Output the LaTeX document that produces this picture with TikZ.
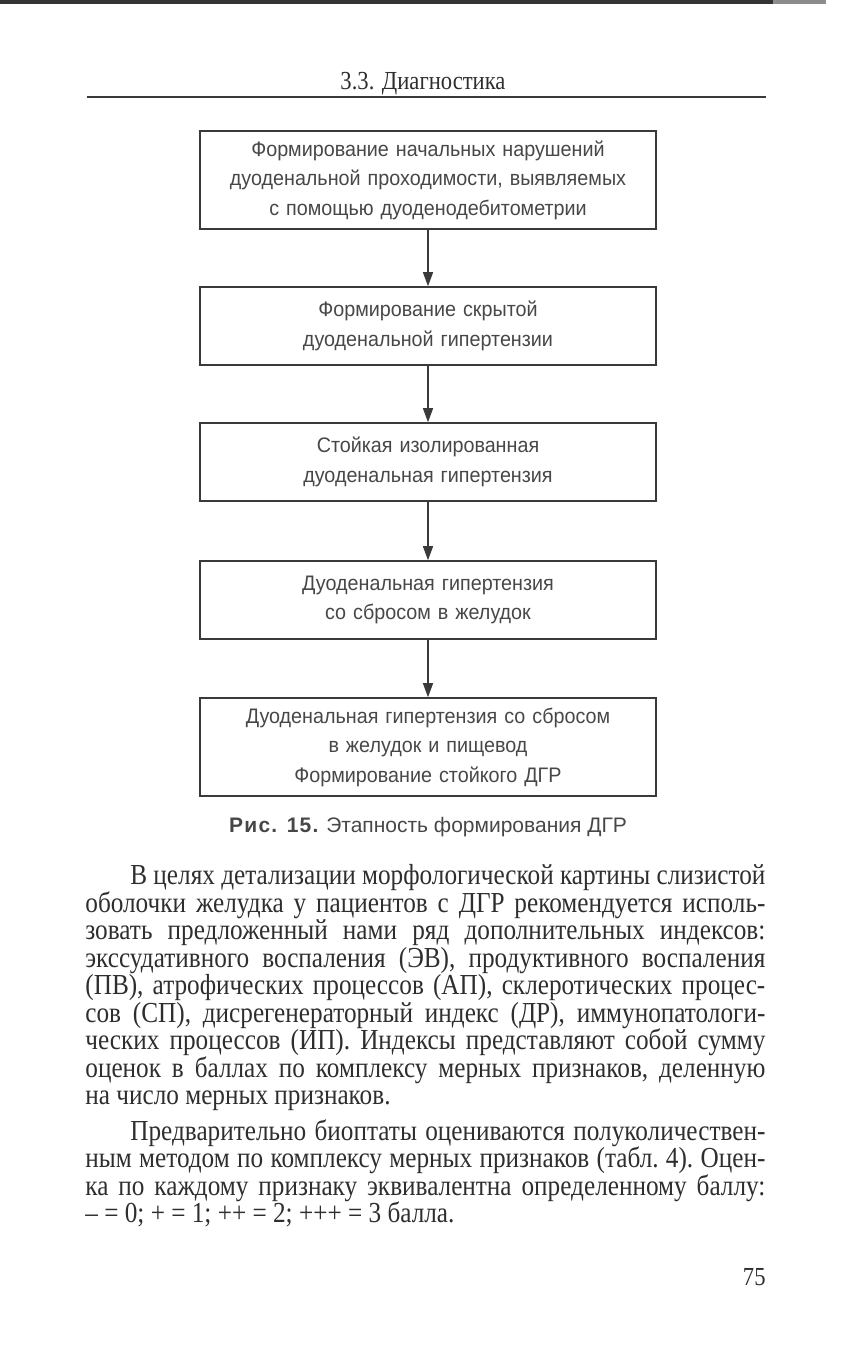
\documentclass[tikz,border=0pt]{standalone}
\usepackage{fontspec}
\setmainfont{Liberation Serif}
\newfontfamily\boxfont[FakeStretch=0.94]{Liberation Sans}
\newfontfamily\capfont{Liberation Sans}
\newfontfamily\bodyfont[FakeStretch=0.87]{Liberation Serif}
\usetikzlibrary{positioning,arrows.meta}
\definecolor{ink}{HTML}{2E2E2E}
\definecolor{frame}{HTML}{3A3A3A}
\definecolor{grey}{HTML}{474747}

\begin{document}
\begin{tikzpicture}[
  x=0.5pt, y=-0.5pt,
  stage/.style = {draw=frame, line width=0.8pt, text=grey, align=center,
                  inner xsep=0pt, text width=228pt, minimum height=39pt,
                  font=\boxfont\fontsize{10.5}{14.75}\selectfont},
  tall/.style  = {stage, minimum height=49pt},
  arr/.style   = {-{Triangle[length=7pt,width=5pt]}, draw=frame, line width=0.7pt},
  head/.style  = {text=ink, inner sep=0pt, font=\bodyfont\fontsize{13}{14}\selectfont},
  body/.style  = {text=ink, inner sep=0pt, text width=340pt, align=justify,
                  font=\bodyfont\fontsize{14.5}{13.75}\selectfont},
  capt/.style  = {text=grey, inner sep=0pt, font=\capfont\fontsize{10.5}{12}\selectfont},
]
\useasboundingbox (0,0) rectangle (841,1350);

% ---------- scan edge ----------
\fill[black!80] (0,0) rectangle (773,4);
\fill[black!45] (773,0) rectangle (826,4);

% ---------- running head ----------
\node[head] (runhead) at (423,84) {3.3. Диагностика};
\draw[frame, line width=0.9pt] (87,97) -- (766,97);

% ---------- stages ----------
\node[tall] (s1) at (428,180)
  {Формирование начальных нарушений\\ дуоденальной проходимости, выявляемых\\ с помощью дуоденодебитометрии};
\node[stage] (s2) at (428,326)
  {Формирование скрытой\\ дуоденальной гипертензии};
\node[stage] (s3) at (428,462)
  {Стойкая изолированная\\ дуоденальная гипертензия};
\node[stage] (s4) at (428,600)
  {Дуоденальная гипертензия\\ со сбросом в желудок};
\node[tall] (s5) at (428,747)
  {Дуоденальная гипертензия со сбросом\\ в желудок и пищевод\\ Формирование стойкого ДГР};

% ---------- arrows ----------
\draw[arr] (s1) -- (s2);
\draw[arr] (s2) -- (s3);
\draw[arr] (s3) -- (s4);
\draw[arr] (s4) -- (s5);

% ---------- caption ----------
\node[capt] (cap) at (428,827)
  {{\bfseries\addfontfeatures{LetterSpace=6}Рис. 15.} Этапность формирования ДГР};

% ---------- text ----------
\node[body, anchor=north west] (txt) at (85,864)
  {\hyphenpenalty=10000 \frenchspacing \fontdimen4\font=0.14em
   \hspace*{22.5pt}В целях детализации морфологической картины слизистой\linebreak
   оболочки желудка у пациентов с ДГР рекомендуется исполь-\linebreak
   зовать предложенный нами ряд дополнительных индексов:\linebreak
   экссудативного воспаления (ЭВ), продуктивного воспаления\linebreak
   (ПВ), атрофических процессов (АП), склеротических процес-\linebreak
   сов (СП), дисрегенераторный индекс (ДР), иммунопатологи-\linebreak
   ческих процессов (ИП). Индексы представляют собой сумму\linebreak
   оценок в баллах по комплексу мерных признаков, деленную\linebreak
   на число мерных признаков.\par\vspace{4pt}
   \hspace*{22.5pt}Предварительно биоптаты оцениваются полуколичествен-\linebreak
   ным методом по комплексу мерных признаков (табл.~4). Оцен-\linebreak
   ка по каждому признаку эквивалентна определенному баллу:\linebreak
   – = 0; + = 1; ++ = 2; +++ = 3 балла.};

\node[head, anchor=east] (folio) at (766,1277) {75};

\end{tikzpicture}
\end{document}
